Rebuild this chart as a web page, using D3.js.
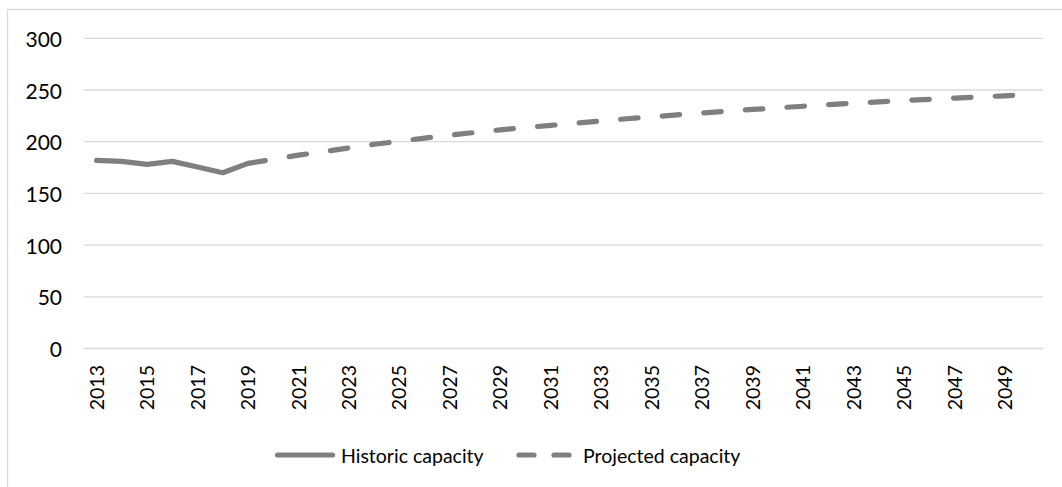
<!DOCTYPE html>
<html>
<head>
<meta charset="utf-8">
<script src="https://cdn.jsdelivr.net/npm/d3@7"></script>
<style>
  body { margin: 0; background: #fff; }
  svg { display: block; font-family: Lato, "Open Sans", sans-serif; }
</style>
</head>
<body>
<svg id="chart"></svg>
<script>
const years = [2013, 2014, 2015, 2016, 2017, 2018, 2019, 2020, 2021, 2022, 2023, 2024, 2025,
  2026, 2027, 2028, 2029, 2030, 2031, 2032, 2033, 2034, 2035, 2036, 2037, 2038, 2039, 2040,
  2041, 2042, 2043, 2044, 2045, 2046, 2047, 2048, 2049, 2050];
const tickYears = [2013, 2015, 2017, 2019, 2021, 2023, 2025, 2027, 2029, 2031, 2033, 2035,
  2037, 2039, 2041, 2043, 2045, 2047, 2049];
const yTicks = [0, 50, 100, 150, 200, 250, 300];

// 2013 - 2019
const historic = [182, 181, 178, 181, 175.5, 170, 179];
// 2019 - 2050
const projected = [179, 183, 187, 190.5, 194, 197.5, 200.5, 203.5, 206.3, 209, 211.5, 213.7,
  215.8, 218, 220, 222.2, 224, 226, 227.8, 229.6, 231.2, 232.8, 234.3, 235.8, 237.2, 238.5,
  239.8, 241, 242.2, 243.3, 244.4, 245.5];
const seriesNames = ["Historic capacity", "Projected capacity"];

const width = 1062, height = 487;
const lineColor = "#7f7f7f", gridColor = "#d9d9d9";

const svg = d3.select("#chart").attr("width", width).attr("height", height);

// chart area border
svg.append("rect")
  .attr("x", 7.5).attr("y", 9.5)
  .attr("width", 1100).attr("height", 600)
  .attr("fill", "none").attr("stroke", gridColor).attr("stroke-width", 1.3);

const x = d3.scaleBand().domain(years).range([84, 1043]).padding(0);
const y = d3.scaleLinear().domain([0, 300]).range([348.5, 38.3]);
const cx = d => x(d) + x.bandwidth() / 2;

// gridlines + y labels
const yAxis = svg.append("g");
yAxis.selectAll("line").data(yTicks).join("line")
  .attr("x1", 84).attr("x2", 1043)
  .attr("y1", d => y(d)).attr("y2", d => y(d))
  .attr("stroke", gridColor).attr("stroke-width", 1.3);
yAxis.selectAll("text").data(yTicks).join("text")
  .attr("x", 62).attr("y", d => y(d))
  .attr("text-anchor", "end").attr("dominant-baseline", "central")
  .attr("font-size", 21).attr("fill", "#000")
  .text(d => d);

// x labels (rotated)
svg.append("g").selectAll("text").data(tickYears).join("text")
  .attr("transform", d => `translate(${cx(d) + 7},${365}) rotate(-90)`)
  .attr("text-anchor", "end")
  .attr("font-size", 19.5).attr("fill", "#000")
  .text(d => d);

const line = d3.line().x(d => cx(d.year)).y(d => y(d.value));

const histData = historic.map((v, i) => ({ year: years[i], value: v }));
const projData = projected.map((v, i) => ({ year: years[i + 6], value: v }));

svg.append("path").datum(histData)
  .attr("d", line)
  .attr("fill", "none").attr("stroke", lineColor).attr("stroke-width", 5.2)
  .attr("stroke-linecap", "round").attr("stroke-linejoin", "round");

svg.append("path").datum(projData)
  .attr("d", line)
  .attr("fill", "none").attr("stroke", lineColor).attr("stroke-width", 5.2)
  .attr("stroke-linecap", "round").attr("stroke-linejoin", "round")
  .attr("stroke-dasharray", "17.5,24.2");

// legend
const legend = svg.append("g");
const legendY = 455;
legend.append("line")
  .attr("x1", 277.5).attr("x2", 332.5).attr("y1", legendY).attr("y2", legendY)
  .attr("stroke", lineColor).attr("stroke-width", 5.2).attr("stroke-linecap", "round");
legend.append("text")
  .attr("x", 341).attr("y", legendY).attr("dominant-baseline", "central")
  .attr("font-size", 19.5).attr("fill", "#000").text(seriesNames[0]);
legend.append("line")
  .attr("x1", 519).attr("x2", 571).attr("y1", legendY).attr("y2", legendY)
  .attr("stroke", lineColor).attr("stroke-width", 5.2).attr("stroke-linecap", "round")
  .attr("stroke-dasharray", "15,20");
legend.append("text")
  .attr("x", 583).attr("y", legendY).attr("dominant-baseline", "central")
  .attr("font-size", 19.5).attr("fill", "#000").text(seriesNames[1]);
</script>
</body>
</html>
